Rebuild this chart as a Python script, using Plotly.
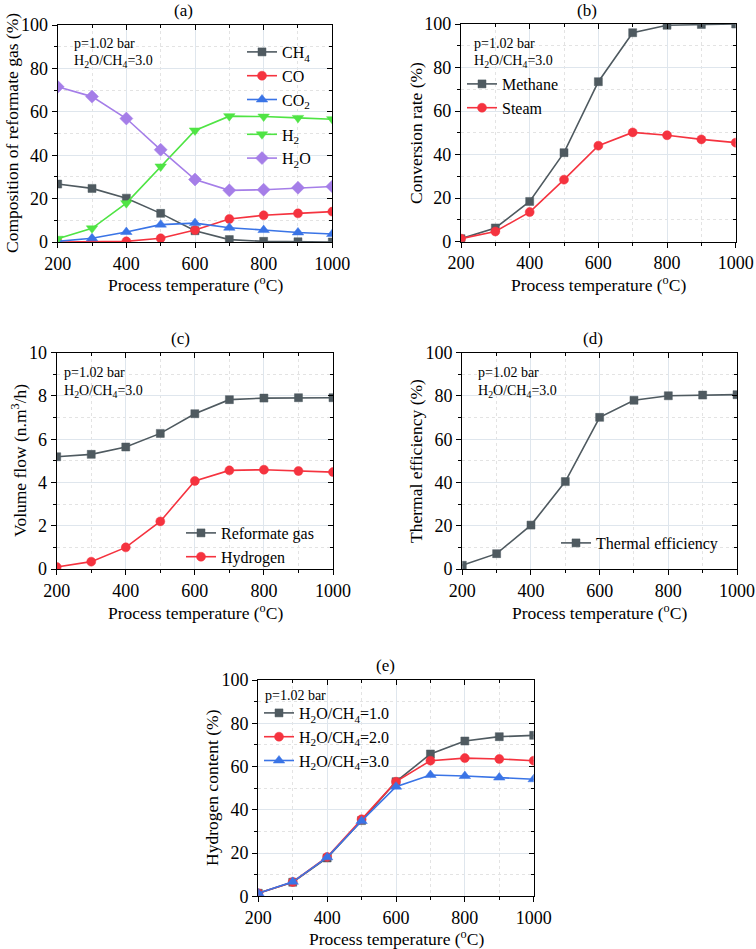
import plotly.graph_objects as go

# ---------------- data ----------------
temps = [200, 300, 400, 500, 600, 700, 800, 900, 1000]

# (a) composition of reformate gas (%)
comp_ch4 = [26.7, 24.7, 20.2, 13.2, 5.2, 1.1, 0.3, 0.1, 0.0]
comp_co = [0.0, 0.0, 0.3, 1.7, 5.5, 10.6, 12.3, 13.2, 14.0]
comp_co2 = [0.3, 1.7, 4.6, 8.0, 8.7, 6.6, 5.5, 4.4, 3.7]
comp_h2 = [1.5, 6.3, 17.9, 34.8, 51.4, 58.0, 57.8, 57.2, 56.6]
comp_h2o = [71.5, 67.0, 56.9, 42.5, 28.8, 23.8, 24.1, 25.0, 25.6]

# (b) conversion rate (%)
conv_methane = [1.4, 6.3, 18.5, 40.9, 73.5, 96.0, 99.4, 99.8, 100.0]
conv_steam = [1.4, 4.7, 13.6, 28.5, 44.1, 50.2, 48.9, 47.0, 45.5]

# (c) volume flow (n.m3/h)
flow_reformate = [5.19, 5.30, 5.64, 6.27, 7.18, 7.83, 7.90, 7.92, 7.92]
flow_hydrogen = [0.09, 0.34, 1.00, 2.20, 4.07, 4.56, 4.59, 4.53, 4.48]

# (d) thermal efficiency (%)
thermal_eff = [1.7, 7.1, 20.3, 40.4, 70.1, 78.0, 80.1, 80.4, 80.6]

# (e) hydrogen content (%)
h2_ratio1 = [1.4, 6.5, 17.7, 35.0, 53.0, 65.8, 71.8, 73.8, 74.4]
h2_ratio2 = [1.4, 6.6, 18.2, 35.6, 53.0, 62.7, 63.9, 63.5, 62.7]
h2_ratio3 = [1.4, 6.7, 18.0, 34.8, 50.7, 56.1, 55.6, 54.9, 54.1]

# ---------------- styling ----------------
W, H = 756, 949
FONT = "Liberation Serif"
GREY = "#4f5a60"
RED = "#f5333f"
BLUE = "#3a74e6"
GREEN = "#4fe444"
PURPLE = "#a57ee8"
GRID = "#dfe6ed"
MINGRID = "#e3e3e3"


def px_x(p):
    return p / W


def px_y(p):
    return 1 - p / H


def aid(prefix, n):
    return prefix if n == 1 else f"{prefix}{n}"


# panel boxes in pixels: (left, right, top, bottom)
boxes = {
    1: (57.7, 332.3, 25.0, 242.0),
    2: (461.0, 735.7, 24.0, 241.7),
    3: (56.7, 333.0, 352.7, 569.0),
    4: (462.3, 737.0, 352.7, 569.0),
    5: (258.3, 533.7, 680.0, 896.3),
}
yranges = {1: (0, 100, 20, 10), 2: (0, 100, 20, 10), 3: (0, 10, 2, 1),
           4: (0, 100, 20, 10), 5: (0, 100, 20, 10)}

fig = go.Figure()


def add_series(panel, x, y, name, color, symbol, size, legend, group=None):
    fig.add_trace(go.Scatter(
        x=x, y=y, name=name, mode="lines+markers",
        line=dict(color=color, width=1.6),
        marker=dict(symbol=symbol, size=size, color=color,
                    line=dict(color=color, width=0.5)),
        xaxis=aid("x", panel), yaxis=aid("y", panel),
        legend=legend, legendgroup=group,
    ))


# (a)
add_series(1, temps, comp_ch4, "CH<sub>4</sub>", GREY, "square", 8, "legend", "g1")
add_series(1, temps, comp_co, "CO", RED, "circle", 9, "legend", "g1")
add_series(1, temps, comp_co2, "CO<sub>2</sub>", BLUE, "triangle-up", 10, "legend", "g1")
add_series(1, temps, comp_h2, "H<sub>2</sub>", GREEN, "triangle-down", 10, "legend", "g2")
add_series(1, temps, comp_h2o, "H<sub>2</sub>O", PURPLE, "diamond", 10, "legend", "g2")
# (b)
add_series(2, temps, conv_methane, "Methane", GREY, "square", 8, "legend2")
add_series(2, temps, conv_steam, "Steam", RED, "circle", 9, "legend2")
# (c)
add_series(3, temps, flow_reformate, "Reformate gas", GREY, "square", 8, "legend3")
add_series(3, temps, flow_hydrogen, "Hydrogen", RED, "circle", 9, "legend3")
# (d)
add_series(4, temps, thermal_eff, "Thermal efficiency", GREY, "square", 8, "legend4")
# (e)
add_series(5, temps, h2_ratio1, "H<sub>2</sub>O/CH<sub>4</sub>=1.0", GREY, "square", 8, "legend5")
add_series(5, temps, h2_ratio2, "H<sub>2</sub>O/CH<sub>4</sub>=2.0", RED, "circle", 9, "legend5")
add_series(5, temps, h2_ratio3, "H<sub>2</sub>O/CH<sub>4</sub>=3.0", BLUE, "triangle-up", 10, "legend5")

layout = dict(
    width=W, height=H,
    margin=dict(l=0, r=0, t=0, b=0, autoexpand=False),
    paper_bgcolor="white", plot_bgcolor="white",
    font=dict(family=FONT, size=18, color="black"),
)

tickfont = dict(family=FONT, size=18, color="black")

for i, (l, r, t, b) in boxes.items():
    y0, y1, ydt, ymin = yranges[i]
    xd = [px_x(l), px_x(r)]
    yd = [px_y(b), px_y(t)]
    layout[aid("xaxis", i)] = dict(
        domain=xd, anchor=aid("y", i), range=[200, 1000], automargin=False,
        tick0=200, dtick=200, ticks="outside", ticklen=5, tickwidth=1.2,
        tickcolor="black", showline=True, linecolor="black", linewidth=1.3,
        mirror=True, showgrid=True, gridcolor=GRID, gridwidth=1,
        zeroline=False, tickfont=tickfont,
        minor=dict(dtick=100, tick0=200, ticks="outside", ticklen=3,
                   tickcolor="black", showgrid=True, gridcolor=MINGRID,
                   griddash="dot"),
    )
    layout[aid("yaxis", i)] = dict(
        domain=yd, anchor=aid("x", i), range=[y0, y1], automargin=False,
        tick0=0, dtick=ydt, ticks="outside", ticklen=5, tickwidth=1.2,
        tickcolor="black", showline=True, linecolor="black", linewidth=1.3,
        mirror=True, showgrid=True, gridcolor=GRID, gridwidth=1,
        zeroline=False, tickfont=tickfont,
        minor=dict(dtick=ymin, tick0=0, ticks="outside", ticklen=3,
                   tickcolor="black", showgrid=True, gridcolor=MINGRID,
                   griddash="dot"),
    )
    # overlay axes for inside ticks on top / right
    j = i + 5
    layout[aid("xaxis", j)] = dict(
        overlaying=aid("x", i), side="top", anchor=aid("y", i),
        automargin=False,
        range=[200, 1000], tick0=200, dtick=200, ticks="inside", ticklen=5,
        tickcolor="black", showticklabels=False, showgrid=False,
        showline=False, zeroline=False,
        minor=dict(dtick=100, tick0=200, ticks="inside", ticklen=3,
                   tickcolor="black", showgrid=False),
    )
    layout[aid("yaxis", j)] = dict(
        overlaying=aid("y", i), side="right", anchor=aid("x", i),
        automargin=False,
        range=[y0, y1], tick0=0, dtick=ydt, ticks="inside", ticklen=5,
        tickcolor="black", showticklabels=False, showgrid=False,
        showline=False, zeroline=False,
        minor=dict(dtick=ymin, tick0=0, ticks="inside", ticklen=3,
                   tickcolor="black", showgrid=False),
    )
    fig.add_trace(go.Scatter(x=[None], y=[None], xaxis=aid("x", j),
                             yaxis=aid("y", i), showlegend=False,
                             hoverinfo="skip"))
    fig.add_trace(go.Scatter(x=[None], y=[None], xaxis=aid("x", i),
                             yaxis=aid("y", j), showlegend=False,
                             hoverinfo="skip"))

legfont = dict(family=FONT, size=16, color="black")


def leg(xpx, ypx, gap=0):
    return dict(x=px_x(xpx), y=px_y(ypx), xanchor="left", yanchor="top",
                bgcolor="rgba(0,0,0,0)", font=legfont, itemwidth=30,
                tracegroupgap=gap, traceorder="grouped")


layout["legend"] = leg(242, 35, gap=11)
layout["legend2"] = leg(462, 67)
layout["legend3"] = leg(181, 516)
layout["legend4"] = leg(556, 526)
layout["legend5"] = leg(259, 696)

fig.update_layout(**layout)

annots = []


def txt(xpx, ypx, text, size=17.5, xanchor="center", angle=0):
    annots.append(dict(x=px_x(xpx), y=px_y(ypx), xref="paper", yref="paper",
                       text=text, showarrow=False, xanchor=xanchor,
                       yanchor="middle", textangle=angle,
                       font=dict(family=FONT, size=size, color="black")))


# panel labels
txt(183, 11, "(a)", 17)
txt(587, 11, "(b)", 17)
txt(180, 338, "(c)", 17)
txt(593, 338, "(d)", 17)
txt(385, 665, "(e)", 17)

xt = "Process temperature (<sup>o</sup>C)"
txt(195, 284, xt)
txt(598, 284, xt)
txt(195, 612, xt)
txt(599, 612, xt)
txt(396, 938, xt)

txt(12, 133, "Composition of reformate gas (%)", angle=-90)
txt(416, 133, "Conversion rate (%)", angle=-90)
txt(19, 461, "Volume flow (n.m<sup>3</sup>/h)", angle=-90)
txt(416, 461, "Thermal efficiency (%)", angle=-90)
txt(212, 788, "Hydrogen content (%)", angle=-90)

cond_p = "p=1.02 bar"
cond_r = "H<sub>2</sub>O/CH<sub>4</sub>=3.0"
for (xp, yp) in [(72, 43), (472, 43), (62, 372), (476, 372)]:
    txt(xp, yp, cond_p, 14, "left")
    txt(xp, yp + 19, cond_r, 14, "left")
txt(263, 695, cond_p, 14, "left")

fig.update_layout(annotations=annots)
fig.write_html("out.html",
               config={"displayModeBar": False},
               post_script="document.body.style.margin='0px';"
                           "document.body.style.overflow='hidden';")
